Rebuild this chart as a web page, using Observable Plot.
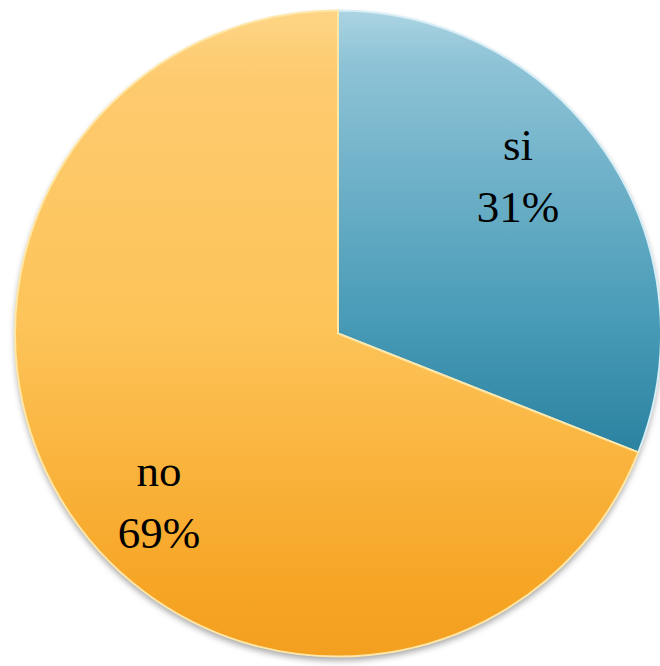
<!DOCTYPE html>
<html><head><meta charset="utf-8">
<script src="https://cdn.jsdelivr.net/npm/d3@7"></script>
<script src="https://cdn.jsdelivr.net/npm/@observablehq/plot@0.6"></script>
<style>body{margin:0;background:#fff}#chart svg{display:block}</style>
</head><body><div id="chart"></div>
<script>
const categories = ["si", "no"];
const values = [31, 69];
const percentLabels = ["31%", "69%"];
const gradientStops = [
  [[0, "#acd4e3"], [0.08, "#8ec3d6"], [0.47, "#4a9cb8"], [0.67, "#2c84a2"]],
  [[0, "#fed585"], [0.11, "#fdca6e"], [0.48, "#fdc459"], [0.91, "#f6a423"], [1, "#f39f20"]]
];
const edgeColors = ["#d8eef6", "#ffe7a8"];

const W = 660, H = 666;
const pie = d3.pie().sort(null).value(d => d.value);
const table = categories.map((c, i) => ({category: c, value: values[i], label: percentLabels[i], i}));
const arcs = pie(table);
const labelR = 0.75;
const labelShift = -8 * Math.PI / 180;
const labelData = arcs.map(a => {
  const m = (a.startAngle + a.endAngle) / 2 + labelShift;
  return {text: a.data.category + "\n" + a.data.label, x: labelR * Math.sin(m), y: labelR * Math.cos(m)};
});

function pieMark(index, scales, channels, dimensions, context) {
  const cx = scales.x(0), cy = scales.y(0);
  const r = (scales.x(1) - scales.x(-1)) / 2;
  const g = d3.create("svg:g");
  const defs = g.append("defs");
  const f = defs.append("filter").attr("id", "sh").attr("x", "-10%").attr("y", "-10%").attr("width", "120%").attr("height", "125%");
  f.append("feDropShadow").attr("dx", 0).attr("dy", 4).attr("stdDeviation", 3).attr("flood-color", "#000").attr("flood-opacity", 0.35);
  arcs.forEach((a, i) => {
    const lg = defs.append("linearGradient").attr("id", "g" + i)
      .attr("gradientUnits", "userSpaceOnUse")
      .attr("x1", 0).attr("y1", -r).attr("x2", 0).attr("y2", r);
    gradientStops[i].forEach(([o, c]) => lg.append("stop").attr("offset", o).attr("stop-color", c));
  });
  const arcGen = d3.arc().innerRadius(0).outerRadius(r);
  const pg = g.append("g").attr("transform", `translate(${cx},${cy})`);
  pg.append("circle").attr("r", r).attr("fill", "#f5a530").attr("filter", "url(#sh)");
  pg.selectAll("path").data(arcs).join("path")
    .attr("d", arcGen)
    .attr("fill", (d, i) => `url(#g${i})`)
    .attr("stroke", (d, i) => edgeColors[i])
    .attr("stroke-width", 2)
    .attr("stroke-linejoin", "round");
  return g.node();
}

const chart = Plot.plot({
  width: W, height: H,
  margin: 0,
  x: {domain: [-1, 1], range: [15, 661], axis: null},
  y: {domain: [-1, 1], range: [657, 10], axis: null},
  marks: [
    pieMark,
    Plot.text(labelData, {x: "x", y: "y", text: "text", fontSize: 45, lineHeight: 1.38, fontFamily: "Liberation Serif", fill: "#000"})
  ]
});
document.getElementById("chart").append(chart);
</script>
</body></html>
